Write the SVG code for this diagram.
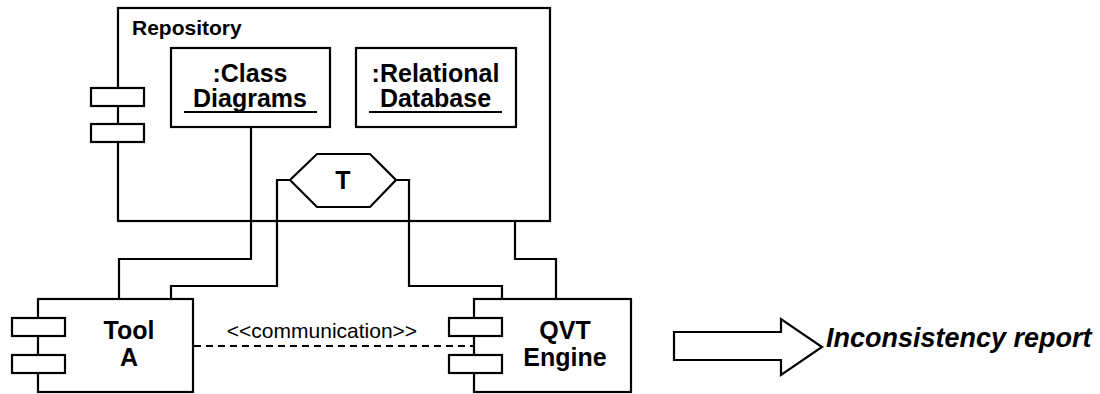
<svg xmlns="http://www.w3.org/2000/svg" width="1100" height="394" viewBox="0 0 1100 394">
<style>
.box{fill:#fff;stroke:#000;stroke-width:2.2}
.ln{fill:none;stroke:#000;stroke-width:2.2}
.t{font-family:"Liberation Sans",Arial,sans-serif;font-weight:bold;fill:#000}
.c{text-anchor:middle;font-size:25px}
</style>
<rect width="1100" height="394" fill="#fff"/>
<g id="repository">
<rect class="box" x="118" y="8" width="432" height="213"/>
<rect class="box" x="91" y="88" width="53" height="18"/>
<rect class="box" x="91" y="124" width="53" height="18"/>
<text class="t" x="132" y="35" font-size="21">Repository</text>
</g>
<g id="class-diagrams">
<rect class="box" x="171" y="48" width="159" height="79"/>
<text class="t c" x="250" y="82">:Class</text>
<text class="t c" x="250" y="107">Diagrams</text>
<line class="ln" x1="184" y1="112" x2="317" y2="112"/>
</g>
<g id="relational-database">
<rect class="box" x="356" y="48" width="160" height="79"/>
<text class="t c" x="435.5" y="82">:Relational</text>
<text class="t c" x="435.5" y="107">Database</text>
<line class="ln" x1="369" y1="112" x2="502" y2="112"/>
</g>
<g id="transformation">
<polygon class="box" points="290,180 317,154 370,154 396,180 370,207 317,207"/>
<text class="t c" x="343" y="189" font-size="24">T</text>
</g>
<g id="tool-a">
<rect class="box" x="38" y="299" width="155" height="93"/>
<rect class="box" x="12" y="318" width="53" height="18"/>
<rect class="box" x="12" y="355" width="53" height="18"/>
<text class="t c" x="129" y="339">Tool</text>
<text class="t c" x="129" y="366">A</text>
</g>
<g id="qvt-engine">
<rect class="box" x="474" y="299" width="157" height="93"/>
<rect class="box" x="449" y="318" width="53" height="18"/>
<rect class="box" x="449" y="355" width="53" height="18"/>
<text class="t c" x="565" y="339">QVT</text>
<text class="t c" x="565" y="366">Engine</text>
</g>
<g id="inconsistency-report">
<polygon class="box" points="674,332 781,332 781,319 822,347 781,375 781,360 674,360"/>
<text class="t" x="826" y="347" font-size="27" font-style="italic">Inconsistency report</text>
</g>
<g id="connectors">
<polyline class="ln" points="251,128 251,259 119,259 119,298"/>
<polyline class="ln" points="289,180 277,180 277,286 171,286 171,298"/>
<polyline class="ln" points="397,180 409,180 409,286 502,286 502,298"/>
<polyline class="ln" points="515,222 515,259 556,259 556,298"/>
<line class="ln" x1="194" y1="346" x2="473" y2="346" stroke-dasharray="7,5"/>
<text x="322" y="338" text-anchor="middle" font-family="Liberation Sans,Arial,sans-serif" font-size="21" fill="#000">&lt;&lt;communication&gt;&gt;</text>
</g>
</svg>
